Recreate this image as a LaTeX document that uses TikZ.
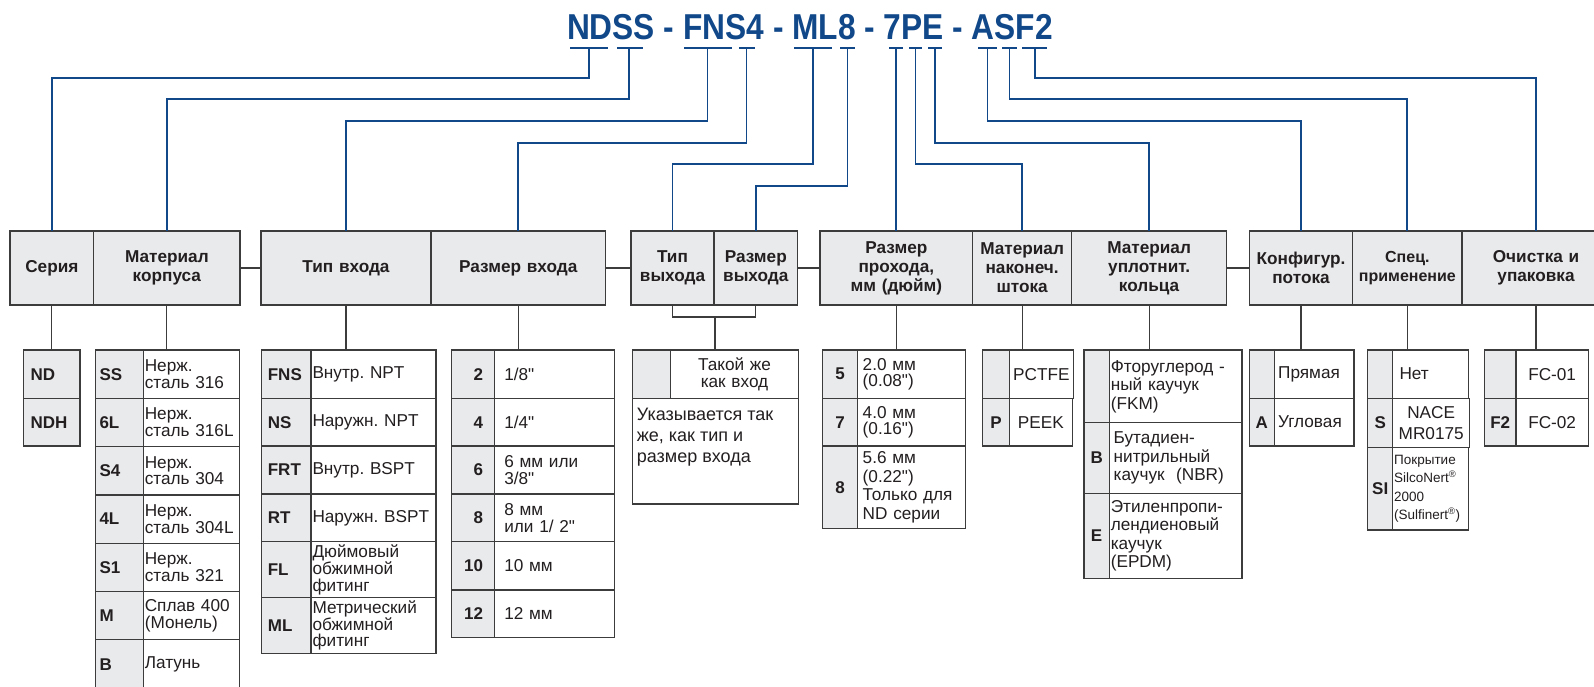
\documentclass[tikz,border=0pt]{standalone}
\usepackage{fontspec}
\setmainfont{Liberation Sans}[Ligatures=TeXOff]
\newfontfamily\titlefont[FakeStretch=0.88]{Liberation Sans}
\usetikzlibrary{positioning}

\definecolor{linkblue}{RGB}{16,72,138}
\definecolor{boxline}{RGB}{60,60,60}
\definecolor{cellgray}{RGB}{233,234,236}
\definecolor{ink}{RGB}{35,31,32}

\newcommand{\hdfont}{\bfseries\fontsize{17.2}{19}\selectfont}
\newcommand{\cdfont}{\bfseries\fontsize{17}{17}\selectfont}
\newcommand{\dsfont}{\fontsize{17.2}{16.7}\selectfont}
\newcommand{\dswide}{\fontsize{17.2}{18.5}\selectfont}
\newcommand{\dssmall}{\fontsize{13.5}{18.3}\selectfont}

\tikzset{
  link/.style={draw=linkblue, line width=1.8pt},
  tie/.style={draw=boxline, line width=1.2pt},
  cell/.style={draw=boxline, line width=1.2pt, outer sep=0pt, inner ysep=0pt, anchor=north west, text=ink},
  wd/.style={minimum width=#1pt, inner xsep=1.5pt, /utils/exec={\pgfmathsetlengthmacro\cellw{#1pt-3pt}}, text width=\cellw},
  ht/.style={minimum height=#1pt},
  hd/.style={cell, fill=cellgray, ht=74, font=\hdfont, align=center, wd=#1},
  cd/.style={cell, fill=cellgray, font=\cdfont, align=center, wd=#1},
  ds/.style={cell, fill=white, font=\dsfont, align=left, wd=#1},
}

\begin{document}
\frenchspacing
\begin{tikzpicture}[x=1pt, y=-1pt]
    \useasboundingbox (0,0) rectangle (1594,687);
    \clip (0,0) rectangle (1594,687);

    % Order code
    \node[text=linkblue, font=\titlefont\bfseries\fontsize{36}{36}\selectfont, anchor=base, inner sep=0pt] (title) at (810,39.3) {NDSS - FNS4 - ML8 - 7PE - ASF2};

    % Marks under the code
    \draw[link] (570,48) -- (608,48);    \coordinate (bSer) at (589,48);
    \draw[link] (617,48) -- (643,48);    \coordinate (bKor) at (629,48);
    \draw[link] (684,48) -- (732,48);    \coordinate (bTip) at (707.5,48);
    \draw[link] (739,48) -- (755,48);    \coordinate (bRaz) at (746.5,48);
    \draw[link] (794,48) -- (832,48);    \coordinate (bTvy) at (813,48);
    \draw[link] (840,48) -- (855,48);    \coordinate (bRvy) at (847.5,48);
    \draw[link] (889,48) -- (903,48);    \coordinate (bProh) at (896,48);
    \draw[link] (909,48) -- (922,48);    \coordinate (bNak) at (915.5,48);
    \draw[link] (928,48) -- (942,48);    \coordinate (bUpl) at (935,48);
    \draw[link] (978,48) -- (997,48);    \coordinate (bKon) at (987.5,48);
    \draw[link] (1002,48) -- (1017,48);  \coordinate (bSpe) at (1009.5,48);
    \draw[link] (1022,48) -- (1047,48);  \coordinate (bOch) at (1035,48);

    % Header row
    \node[hd=83.7] (hSer) at (10,231) {Серия};
    \node[hd=146.3] (hKor) at (93.7,231) {Материал\\корпуса};
    \node[hd=170] (hTip) at (261,231) {Тип входа};
    \node[hd=174.5] (hRaz) at (431,231) {Размер входа};
    \node[hd=83] (hTvy) at (631,231) {Тип\\выхода};
    \node[hd=83.6] (hRvy) at (714,231) {Размер\\выхода};
    \node[hd=152.7] (hProh) at (820,231) {Размер\\прохода,\\мм (дюйм)};
    \node[hd=98.8] (hNak) at (972.7,231) {Материал\\наконеч.\\штока};
    \node[hd=155.2] (hUpl) at (1071.5,231) {Материал\\уплотнит.\\кольца};
    \node[hd=103.4] (hKon) at (1249.3,231) {Конфигур.\\потока};
    \node[hd=109.3, font=\bfseries\fontsize{16}{19}\selectfont] (hSpe) at (1352.7,231) {Спец.\\применение};
    \node[hd=148] (hOch) at (1462,231) {Очистка и\\упаковка};

    % Blue links from the code to the headers
    \draw[link] (bSer) -- ++(0,30) -| (hSer.north);
    \draw[link] (bKor) -- ++(0,51) -| (hKor.north);
    \draw[link] (bTip) -- ++(0,73) -| (hTip.north);
    \draw[link] (bRaz) -- ++(0,95) -| (hRaz.north);
    \draw[link] (bTvy) -- ++(0,116) -| (hTvy.north);
    \draw[link] (bRvy) -- ++(0,138) -| (hRvy.north);
    \draw[link] (bProh) -- (bProh |- hProh.north);
    \draw[link] (bNak) -- ++(0,116) -| (hNak.north);
    \draw[link] (bUpl) -- ++(0,95) -| (hUpl.north);
    \draw[link] (bKon) -- ++(0,73) -| (hKon.north);
    \draw[link] (bSpe) -- ++(0,51) -| (hSpe.north);
    \draw[link] (bOch) -- ++(0,30) -| (hOch.north);

    % Ties between header groups
    \draw[tie] (hKor) -- (hTip);
    \draw[tie] (hRaz) -- (hTvy);
    \draw[tie] (hRvy) -- (hProh);
    \draw[tie] (hUpl) -- (hKon);

    % Серия
    \node[cd=56.7, ht=48.3, align=left, text width=42pt] (ser1) at (23.3,350) {ND};
    \node[cd=56.7, ht=47.7, align=left, text width=42pt] (ser2) at (23.3,398.3) {NDH};

    % Материал корпуса
    \node[cd=47.6, ht=48.3, align=left, text width=40pt] (kor1) at (95.7,350) {SS};
    \node[ds=96, ht=48.3] (kor1t) at (143.3,350) {Нерж.\\сталь 316};
    \node[cd=47.6, ht=48.3, align=left, text width=40pt] (kor2) at (95.7,398.3) {6L};
    \node[ds=96, ht=48.3] (kor2t) at (143.3,398.3) {Нерж.\\сталь 316L};
    \node[cd=47.6, ht=48.3, align=left, text width=40pt] (kor3) at (95.7,446.6) {S4};
    \node[ds=96, ht=48.3] (kor3t) at (143.3,446.6) {Нерж.\\сталь 304};
    \node[cd=47.6, ht=48.3, align=left, text width=40pt] (kor4) at (95.7,494.9) {4L};
    \node[ds=96, ht=48.3] (kor4t) at (143.3,494.9) {Нерж.\\сталь 304L};
    \node[cd=47.6, ht=48.3, align=left, text width=40pt] (kor5) at (95.7,543.2) {S1};
    \node[ds=96, ht=48.3] (kor5t) at (143.3,543.2) {Нерж.\\сталь 321};
    \node[cd=47.6, ht=48.3, align=left, text width=40pt] (kor6) at (95.7,591.5) {M};
    \node[ds=96, ht=48.3] (kor6t) at (143.3,591.5) {Сплав 400\\(Монель)};
    \node[cd=47.6, ht=50, align=left, text width=40pt] (kor7) at (95.7,639.8) {B};
    \node[ds=96, ht=50] (kor7t) at (143.3,639.8) {Латунь};

    % Тип входа
    \node[cd=49.3, ht=48.3, align=left, text width=37pt] (tip1) at (261.7,350) {FNS};
    \node[ds=125, ht=48.3] (tip1t) at (311,350) {Внутр. NPT};
    \node[cd=49.3, ht=47.7, align=left, text width=37pt] (tip2) at (261.7,398.3) {NS};
    \node[ds=125, ht=47.7] (tip2t) at (311,398.3) {Наружн. NPT};
    \node[cd=49.3, ht=48, align=left, text width=37pt] (tip3) at (261.7,446) {FRT};
    \node[ds=125, ht=48] (tip3t) at (311,446) {Внутр. BSPT};
    \node[cd=49.3, ht=47.7, align=left, text width=37pt] (tip4) at (261.7,494) {RT};
    \node[ds=125, ht=47.7] (tip4t) at (311,494) {Наружн. BSPT};
    \node[cd=49.3, ht=56, align=left, text width=37pt] (tip5) at (261.7,541.7) {FL};
    \node[ds=125, ht=56] (tip5t) at (311,541.7) {Дюймовый\\обжимной\\фитинг};
    \node[cd=49.3, ht=55.6, align=left, text width=37pt] (tip6) at (261.7,597.7) {ML};
    \node[ds=125, ht=55.6] (tip6t) at (311,597.7) {Метрический\\обжимной\\фитинг};

    % Размер входа
    \node[cd=42.6, ht=48.3, align=right, text width=20pt] (raz1) at (451.7,350) {2};
    \node[ds=120, ht=48.3, text width=100pt] (raz1t) at (494.3,350) {1/8"};
    \node[cd=42.6, ht=47.7, align=right, text width=20pt] (raz2) at (451.7,398.3) {4};
    \node[ds=120, ht=47.7, text width=100pt] (raz2t) at (494.3,398.3) {1/4"};
    \node[cd=42.6, ht=48, align=right, text width=20pt] (raz3) at (451.7,446) {6};
    \node[ds=120, ht=48, text width=100pt] (raz3t) at (494.3,446) {6 мм или\\3/8"};
    \node[cd=42.6, ht=47.7, align=right, text width=20pt] (raz4) at (451.7,494) {8};
    \node[ds=120, ht=47.7, text width=100pt] (raz4t) at (494.3,494) {8 мм\\или 1/ 2"};
    \node[cd=42.6, ht=48.3, align=right, text width=20pt] (raz5) at (451.7,541.7) {10};
    \node[ds=120, ht=48.3, text width=100pt] (raz5t) at (494.3,541.7) {10 мм};
    \node[cd=42.6, ht=47.7, align=right, text width=20pt] (raz6) at (451.7,590) {12};
    \node[ds=120, ht=47.7, text width=100pt] (raz6t) at (494.3,590) {12 мм};

    % Выход
    \node[cd=38.4, ht=48.3] (vy1) at (632.3,350) {};
    \node[ds=127.6, ht=48.3, align=center] (vy1t) at (670.7,350) {Такой же\\как вход};
    \node[ds=166, ht=105.7] (vy2) at (632.3,398.3) {};
    \node[font=\fontsize{18}{21}\selectfont, text=ink, align=left, anchor=north west, inner sep=0pt] (vyNote) at (636.7,407.5) {Указывается так\\же, как тип и\\размер входа};

    % Размер прохода
    \node[cd=35, ht=48.3] (pr1) at (822.7,350) {5};
    \node[ds=108, ht=48.3, text width=98pt] (pr1t) at (857.7,350) {2.0 мм\\(0.08")};
    \node[cd=35, ht=47.7] (pr2) at (822.7,398.3) {7};
    \node[ds=108, ht=47.7, text width=98pt] (pr2t) at (857.7,398.3) {4.0 мм\\(0.16")};
    \node[cd=35, ht=82.3] (pr3) at (822.7,446) {8};
    \node[ds=108, ht=82.3, text width=98pt, font=\dswide] (pr3t) at (857.7,446) {5.6 мм\\(0.22")\\Только для\\ND серии};

    % Материал наконечника
    \node[cd=26.6, ht=48.3] (nk1) at (982.7,350) {};
    \node[ds=63, ht=48.3, align=center, text width=61pt] (nk1t) at (1009.3,350) {PCTFE};
    \node[cd=26.6, ht=47.7] (nk2) at (982.7,398.3) {P};
    \node[ds=63, ht=47.7, align=center] (nk2t) at (1009.3,398.3) {PEEK};

    % Материал уплотнительного кольца
    \node[cd=25.3, ht=72.7] (up1) at (1084,350) {};
    \node[ds=132.7, ht=72.7, font=\dswide] (up1t) at (1109.3,350) {Фторуглерод -\\ный каучук\\(FKM)};
    \node[cd=25.3, ht=70.6] (up2) at (1084,422.7) {B};
    \node[ds=132.7, ht=70.6, text width=124pt, font=\dswide] (up2t) at (1109.3,422.7) {Бутадиен-\\нитрильный\\каучук~ (NBR)};
    \node[cd=25.3, ht=85] (up3) at (1084,493.3) {E};
    \node[ds=132.7, ht=85, font=\dswide] (up3t) at (1109.3,493.3) {Этиленпропи-\\лендиеновый\\каучук\\(EPDM)};

    % Конфигурация потока
    \node[cd=25, ht=48.3] (kn1) at (1249.3,350) {};
    \node[ds=79.7, ht=48.3, text width=72pt] (kn1t) at (1274.3,350) {Прямая};
    \node[cd=25, ht=47.7] (kn2) at (1249.3,398.3) {A};
    \node[ds=79.7, ht=47.7, text width=72pt] (kn2t) at (1274.3,398.3) {Угловая};

    % Спец. применение
    \node[cd=25, ht=48.3] (sp1) at (1367.7,350) {};
    \node[ds=75.6, ht=48.3, text width=62pt] (sp1t) at (1392.7,350) {Нет};
    \node[cd=25, ht=49] (sp2) at (1367.7,398.3) {S};
    \node[ds=75.6, ht=49, align=center, text width=74pt, font=\fontsize{17.2}{21}\selectfont] (sp2t) at (1392.7,398.3) {NACE\\MR0175};
    \node[cd=25, ht=82.7] (sp3) at (1367.7,447.3) {SI};
    \node[ds=75.6, ht=82.7, font=\dssmall] (sp3t) at (1392.7,447.3) {Покрытие\\SilcoNert\textsuperscript{®}\\2000\\(Sulfinert\textsuperscript{®})};

    % Очистка и упаковка
    \node[cd=31.7, ht=48.3] (oc1) at (1484.3,350) {};
    \node[ds=72.3, ht=48.3, align=center] (oc1t) at (1516,350) {FC-01};
    \node[cd=31.7, ht=47.7] (oc2) at (1484.3,398.3) {F2};
    \node[ds=72.3, ht=47.7, align=center] (oc2t) at (1516,398.3) {FC-02};

    % Ties from headers down to the tables
    \draw[tie] (hSer) -- (hSer |- ser1.north);
    \draw[tie] (hKor) -- (hKor |- kor1.north);
    \draw[tie] (hTip) -- (hTip |- tip1.north);
    \draw[tie] (hRaz) -- (hRaz |- raz1.north);
    \coordinate (joint) at (715,317);
    \draw[tie] (hTvy.south) |- (joint) -| (hRvy.south);
    \draw[tie] (joint) -- (joint |- vy1.north);
    \draw[tie] (hProh) -- (hProh |- pr1.north);
    \draw[tie] (hNak) -- (hNak |- nk1.north);
    \draw[tie] (hUpl) -- (hUpl |- up1.north);
    \draw[tie] (hKon) -- (hKon |- kn1.north);
    \draw[tie] (hSpe) -- (hSpe |- sp1.north);
    \draw[tie] (hOch) -- (hOch |- oc1.north);

\end{tikzpicture}
\end{document}
